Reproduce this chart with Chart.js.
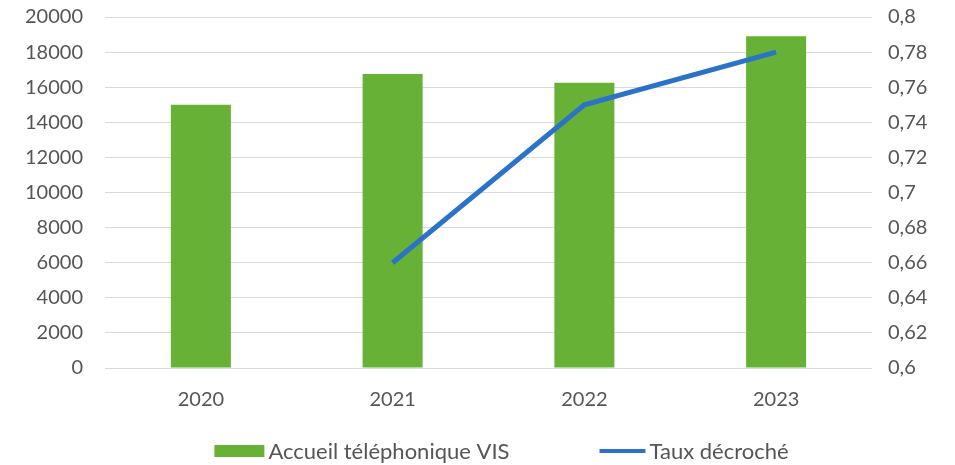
<!DOCTYPE html>
<html>
<head>
<meta charset="utf-8">
<script src="https://cdn.jsdelivr.net/npm/chart.js@4.4.1/dist/chart.umd.min.js"></script>
<style>
  html, body { margin: 0; padding: 0; background: #fff; }
  #wrap { width: 955px; height: 465px; position: relative; }
</style>
</head>
<body>
<div id="wrap"><canvas id="chart"></canvas></div>
<script>
// Data
const years = ['2020', '2021', '2022', '2023'];
const appels = [15000, 16750, 16250, 18900];
const tauxDecroche = [null, 0.66, 0.75, 0.78];

// Style
const GREEN = '#67b236';
const BLUE = '#2a73c9';
const TEXT = '#555555';
const GRID = '#d9d9d9';
const FONT = 'Lato, "Open Sans", sans-serif';
const TICK_SIZE = 20;

// Legend drawn on the canvas below the x axis
const bottomLegend = {
    id: 'bottomLegend',
    afterDraw(chart) {
        const ctx = chart.ctx;
        const y = 451;
        const items = chart.data.datasets.map(ds => ({
            label: ds.label,
            type: ds.type,
            color: ds.type === 'line' ? ds.borderColor : ds.backgroundColor,
            boxW: ds.type === 'line' ? 46 : 50
        }));
        ctx.save();
        ctx.font = '22px ' + FONT;
        ctx.textBaseline = 'middle';
        const gap = 4, spacing = 90;
        const widths = items.map(it => it.boxW + gap + ctx.measureText(it.label).width);
        const total = widths.reduce((a, b) => a + b, 0) + spacing * (items.length - 1);
        let x = (chart.width - total) / 2 + 24;
        items.forEach((it, i) => {
            if (it.type === 'line') {
                ctx.strokeStyle = it.color;
                ctx.lineWidth = 4;
                ctx.beginPath();
                ctx.moveTo(x, y);
                ctx.lineTo(x + it.boxW, y);
                ctx.stroke();
            } else {
                ctx.fillStyle = it.color;
                ctx.fillRect(x, y - 6, it.boxW, 12);
            }
            ctx.fillStyle = TEXT;
            ctx.fillText(it.label, x + it.boxW + gap, y + 1);
            x += widths[i] + spacing;
        });
        ctx.restore();
    }
};

const frNum = v => String(v).replace('.', ',');

new Chart(document.getElementById('chart'), {
    data: {
        labels: years,
        datasets: [
            {
                type: 'bar',
                label: 'Accueil téléphonique VIS',
                data: appels,
                yAxisID: 'y',
                backgroundColor: GREEN,
                barPercentage: 0.313,
                categoryPercentage: 1,
                order: 1
            },
            {
                type: 'line',
                label: 'Taux décroché',
                data: tauxDecroche,
                yAxisID: 'y1',
                borderColor: BLUE,
                borderWidth: 5,
                pointRadius: 0,
                tension: 0,
                order: 0
            }
        ]
    },
    options: {
        responsive: true,
        maintainAspectRatio: false,
        animation: false,
        layout: { padding: 0 },
        plugins: {
            legend: { display: false },
            tooltip: { enabled: false }
        },
        scales: {
            x: {
                grid: { display: false, drawTicks: false },
                border: { display: false },
                ticks: { color: TEXT, font: { family: FONT, size: TICK_SIZE }, padding: 20 },
                afterFit(axis) { axis.height = 97; }
            },
            y: {
                position: 'left',
                min: 0,
                max: 20000,
                ticks: {
                    stepSize: 2000,
                    color: TEXT,
                    font: { family: FONT, size: TICK_SIZE },
                    padding: 5,
                    callback: v => String(v)
                },
                // transparent tick marks keep the gap between labels and plot
                grid: { color: GRID, lineWidth: 1, drawTicks: true, tickLength: 17, tickColor: 'rgba(0,0,0,0)' },
                border: { display: false },
                afterFit(axis) { axis.width = 105; }
            },
            y1: {
                position: 'right',
                min: 0.6,
                max: 0.8,
                ticks: {
                    stepSize: 0.02,
                    color: TEXT,
                    font: { family: FONT, size: TICK_SIZE },
                    padding: 5,
                    callback: v => frNum(Math.round(v * 100) / 100)
                },
                grid: { drawOnChartArea: false, drawTicks: true, tickLength: 11, tickColor: 'rgba(0,0,0,0)' },
                border: { display: false },
                afterFit(axis) { axis.width = 83; }
            }
        }
    },
    plugins: [bottomLegend]
});
</script>
</body>
</html>
